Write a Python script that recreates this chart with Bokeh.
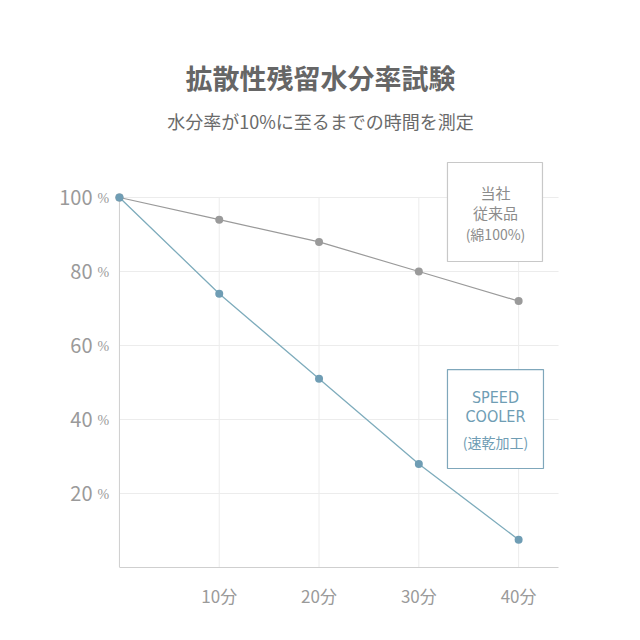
from bokeh.plotting import figure
from bokeh.models import Range1d, FixedTicker, Label, LabelSet, ColumnDataSource, BoxAnnotation
from bokeh.embed import file_html
from bokeh.resources import INLINE

# ---- data ----
minutes = [0, 10, 20, 30, 40]
cotton = [100, 94, 88, 80, 72]          # 当社従来品（綿100%）
speed = [100, 74, 51, 28, 7.5]          # SPEED COOLER（速乾加工）
x_ticks = [10, 20, 30, 40]
x_tick_labels = ["10分", "20分", "30分", "40分"]
y_ticks = [20, 40, 60, 80, 100]
y_tick_labels = ["20", "40", "60", "80", "100"]
y_units = ["%", "%", "%", "%", "%"]

title_text = "拡散性残留水分率試験"
subtitle_text = "水分率が10%に至るまでの時間を測定"

FONT = "Noto Sans CJK JP"
GRAY = "#9a9a9a"
BLUE_LINE = "#7eacbc"
BLUE_DOT = "#6f9db4"
GRID = "#ececec"
AXIS = "#cfcfcf"

p = figure(width=624, height=624, frame_width=484, frame_height=555,
           min_border_left=94, min_border_right=46, min_border_top=12, min_border_bottom=57,
           x_range=Range1d(-2.5, 46), y_range=Range1d(0, 150),
           output_backend="svg", toolbar_location=None, tools="")
p.outline_line_color = None
p.background_fill_color = "white"
p.border_fill_color = "white"
p.xgrid.visible = False
p.ygrid.visible = False

# grid lines from tick arrays
p.segment(x0=[0] * len(y_ticks), x1=[44] * len(y_ticks), y0=y_ticks, y1=y_ticks,
          line_color=GRID, line_width=1)
p.segment(x0=x_ticks, x1=x_ticks, y0=[0] * len(x_ticks), y1=[100] * len(x_ticks),
          line_color=GRID, line_width=1)
# y axis line at x = 0
p.segment(x0=[0], x1=[0], y0=[0], y1=[max(y_ticks)], line_color=AXIS, line_width=1)

# axes
xa = p.xaxis[0]
xa.ticker = FixedTicker(ticks=x_ticks)
xa.major_label_overrides = {t: l for t, l in zip(x_ticks, x_tick_labels)}
xa.bounds = (0, 44)
xa.axis_line_color = AXIS
xa.major_tick_line_color = None
xa.minor_tick_line_color = None
xa.major_label_standoff = 9
xa.major_label_text_font = FONT
xa.major_label_text_font_size = "17px"
xa.major_label_text_color = GRAY

ya = p.yaxis[0]
ya.ticker = FixedTicker(ticks=y_ticks)
ya.major_label_overrides = {t: l for t, l in zip(y_ticks, y_tick_labels)}
ya.axis_line_color = None
ya.major_tick_line_color = None
ya.minor_tick_line_color = None
ya.major_label_standoff = -4
ya.major_label_text_font = FONT
ya.major_label_text_font_size = "20px"
ya.major_label_text_color = GRAY

unit_src = ColumnDataSource(dict(x=[0] * len(y_ticks), y=y_ticks, t=y_units))
p.add_layout(LabelSet(x="x", y="y", text="t", source=unit_src, x_offset=-22, y_offset=-1,
                      text_align="left", text_baseline="middle", text_font=FONT,
                      text_font_size="14px", text_color=GRAY))

# series
p.line(minutes, cotton, line_color=GRAY, line_width=1.2)
p.scatter(minutes, cotton, size=8, fill_color=GRAY, line_color=None)
p.line(minutes, speed, line_color=BLUE_LINE, line_width=1.3)
p.scatter(minutes, speed, size=8, fill_color=BLUE_DOT, line_color=None)

# legend-like boxes
p.add_layout(BoxAnnotation(left=32.87, right=42.39, top=109.46, bottom=82.7,
                           fill_color="white", fill_alpha=1, line_color="#c8c8c8",
                           line_alpha=1, line_width=1.2))
p.add_layout(BoxAnnotation(left=32.87, right=42.49, top=53.5, bottom=26.76,
                           fill_color="white", fill_alpha=1, line_color="#7fa7bb",
                           line_alpha=1, line_width=1.2))

def lab(x, y, text, size, color, font=FONT, style="normal"):
    p.add_layout(Label(x=x, y=y, text=text, text_align="center", text_baseline="middle",
                       text_font=font, text_font_size=size, text_color=color,
                       text_font_style=style))

lab(37.68, 101.35, "当社", "15px", "#8c8c8c")
lab(37.68, 95.95, "従来品", "15px", "#8c8c8c")
lab(37.68, 90.27, "(綿100%)", "14px", "#8c8c8c")
lab(37.68, 45.95, "SPEED", "16px", "#6f9db4", font="DejaVu Sans Condensed")
lab(37.68, 40.8, "COOLER", "16px", "#6f9db4", font="DejaVu Sans Condensed")
lab(37.68, 33.8, "(速乾加工)", "14px", "#6f9db4")

# titles
lab(20.15, 132.4, title_text, "27px", "#666666", style="bold")
lab(20.15, 120.8, subtitle_text, "18px", "#6a6a6a")

open("out.html", "w").write(file_html(p, INLINE))
